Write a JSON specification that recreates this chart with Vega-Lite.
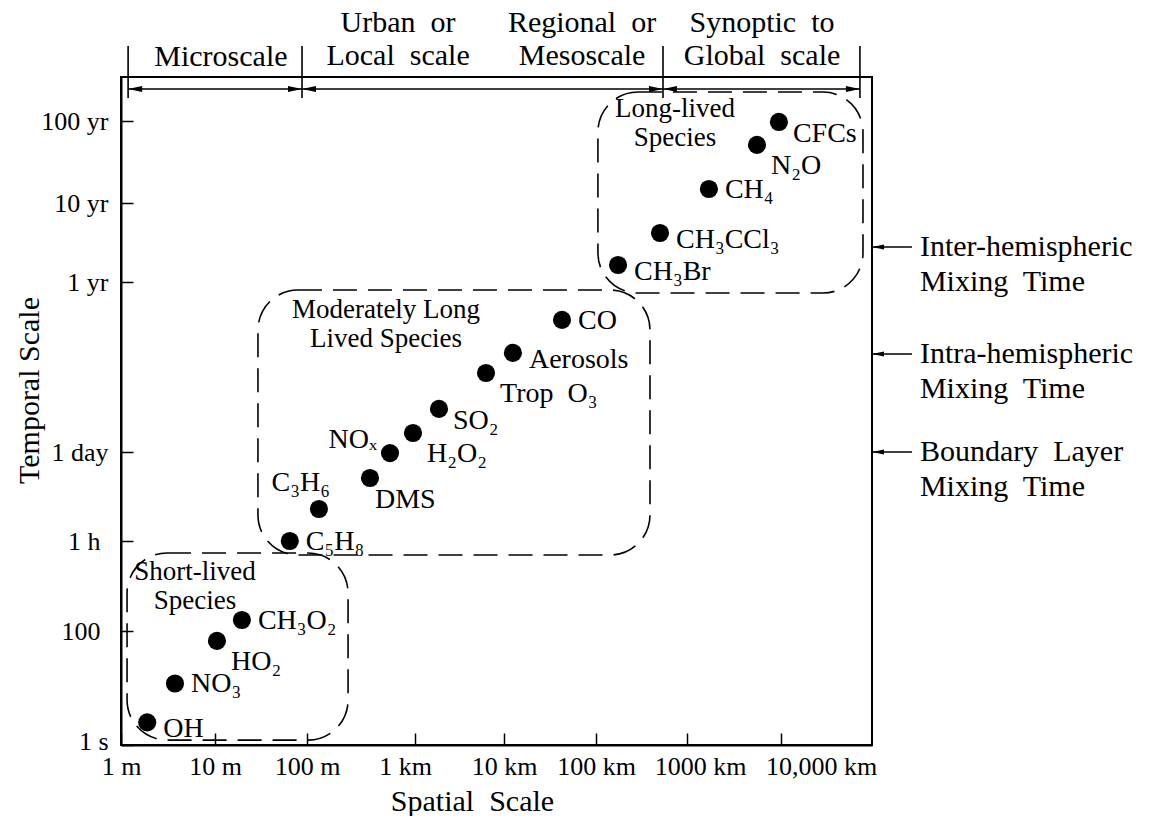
{
  "$schema": "https://vega.github.io/schema/vega-lite/v6.json",
  "width": 751,
  "height": 668,
  "autosize": {"type": "none"},
  "padding": {"left": 121, "top": 77, "right": 277, "bottom": 71},
  "background": "white",
  "config": {
    "font": "Liberation Serif",
    "view": {"stroke": "black", "strokeWidth": 2},
    "axis": {
      "domainColor": "black", "domainWidth": 2,
      "tickColor": "black", "tickWidth": 1.5,
      "labelColor": "black", "titleColor": "#000000",
      "labelFont": "Liberation Serif", "titleFont": "Liberation Serif",
      "labelFontSize": 26, "titleFontSize": 30,
      "titleFontWeight": "normal", "grid": false,
      "labelOverlap": false, "labelFlush": false
    },
    "text": {"color": "black", "font": "Liberation Serif"}
  },
  "datasets": {
    "species": [
      {"species": "OH", "space_m": 1.9, "time_s": 2.5},
      {"species": "NO₃", "space_m": 3.75, "time_s": 12},
      {"species": "HO₂", "space_m": 10.5, "time_s": 67},
      {"species": "CH₃O₂", "space_m": 19.6, "time_s": 155},
      {"species": "C₅H₈", "space_m": 65, "time_s": 3600},
      {"species": "C₃H₆", "space_m": 129, "time_s": 11300},
      {"species": "DMS", "space_m": 383, "time_s": 34100},
      {"species": "NOₓ", "space_m": 587, "time_s": 83200},
      {"species": "H₂O₂", "space_m": 958, "time_s": 167000},
      {"species": "SO₂", "space_m": 1860, "time_s": 385000},
      {"species": "Trop\u00a0 O₃", "space_m": 6280, "time_s": 1340000},
      {"species": "Aerosols", "space_m": 12500, "time_s": 2690000},
      {"species": "CO", "space_m": 42700, "time_s": 8450000},
      {"species": "CH₃Br", "space_m": 174600, "time_s": 51800000},
      {"species": "CH₃CCl₃", "space_m": 505000, "time_s": 131500000},
      {"species": "CH₄", "space_m": 1710000, "time_s": 467000000},
      {"species": "N₂O", "space_m": 5550000, "time_s": 1610000000},
      {"species": "CFCs", "space_m": 9500000, "time_s": 3070000000}
    ],
    "boxes": [
      {"group": "Short-lived", "x": 1.16, "x2": 240, "y": 1.22, "y2": 2230},
      {"group": "Moderately long lived", "x": 29.3, "x2": 392000, "y": 2060, "y2": 23900000},
      {"group": "Long-lived", "x": 105000, "x2": 79600000, "y": 21500000, "y2": 6750000000}
    ],
    "boxnotes": [
      {"text": "Short-lived\nSpecies", "x": 6.12, "y": 762},
      {"text": "Moderately Long\nLived Species", "x": 539, "y": 9040000},
      {"text": "Long-lived\nSpecies", "x": 738000, "y": 3460000000}
    ],
    "scalenotes": [
      {"text": "Microscale", "x": 11.6, "y": 13300000000},
      {"text": "Urban\u00a0 or\nLocal\u00a0 scale", "x": 697, "y": 32600000000},
      {"text": "Regional\u00a0 or\nMesoscale", "x": 70500, "y": 32600000000},
      {"text": "Synoptic\u00a0 to\nGlobal\u00a0 scale", "x": 6280000, "y": 32600000000}
    ],
    "dividers": [
      {"x": 1.19, "y": 5770000000, "y2": 22600000000},
      {"x": 88.3, "y": 5770000000, "y2": 22600000000},
      {"x": 545000, "y": 5770000000, "y2": 22600000000},
      {"x": 73700000, "y": 5770000000, "y2": 22600000000}
    ],
    "spans": [
      {"x": 1.19, "x2": 88.3, "y": 7300000000},
      {"x": 88.3, "x2": 545000, "y": 7300000000},
      {"x": 545000, "x2": 73700000, "y": 7300000000}
    ],
    "mixing": [
      {"text": "Inter-hemispheric\nMixing\u00a0 Time", "y": 87500000, "x": 100000000, "x2": 275000000, "xt": 336000000},
      {"text": "Intra-hemispheric\nMixing\u00a0 Time", "y": 2590000, "x": 100000000, "x2": 275000000, "xt": 336000000},
      {"text": "Boundary\u00a0 Layer\nMixing\u00a0 Time", "y": 86400, "x": 100000000, "x2": 275000000, "xt": 336000000}
    ]
  },
  "layer": [
    {
      "data": {"name": "species"},
      "mark": {"type": "point", "shape": "circle", "filled": true, "color": "black", "size": 330, "opacity": 1},
      "encoding": {
        "x": {
          "field": "space_m", "type": "quantitative",
          "scale": {"type": "log", "domain": [1, 10, 100, 1000, 10000, 100000, 1000000, 10000000, 100000000], "range": [0, 94, 186, 294, 383, 475, 566, 660, 751], "nice": false},
          "axis": {
            "title": "Spatial\u00a0 Scale",
            "values": [1, 10, 100, 1000, 10000, 100000, 1000000, 10000000],
            "labelExpr": "datum.value == 1 ? '1 m' : datum.value == 10 ? '10 m' : datum.value == 100 ? '100 m' : datum.value == 1000 ? '1 km' : datum.value == 10000 ? '10 km' : datum.value == 100000 ? '100 km' : datum.value == 1000000 ? '1000 km' : '10,000 km'",
            "tickSize": -12,
            "labelPadding": 20,
            "labelOffset": {"condition": [{"test": "datum.value == 1000", "value": -10}, {"test": "datum.value == 1000000", "value": 13}, {"test": "datum.value == 10000000", "value": 40}], "value": 0},
            "titleX": 351, "titleY": 65, "titleAlign": "center", "titleBaseline": "alphabetic", "titleColor": "#000000"
          }
        },
        "y": {
          "field": "time_s", "type": "quantitative",
          "scale": {"type": "log", "domain": [1, 100, 3600, 86400, 31536000, 315360000, 3153600000, 10000000000], "range": [668, 554, 464, 375, 205, 126, 44, 0], "nice": false},
          "axis": {
            "title": "Temporal Scale",
            "values": [1, 100, 3600, 86400, 31536000, 315360000, 3153600000],
            "labelExpr": "datum.value == 1 ? '1 s' : datum.value == 100 ? '100' : datum.value == 3600 ? '1 h' : datum.value == 86400 ? '1 day' : datum.value == 31536000 ? '1 yr' : datum.value == 315360000 ? '10 yr' : '100 yr'",
            "tickSize": -12,
            "labelPadding": {"condition": {"test": "datum.value == 3600 || datum.value == 100", "value": 33}, "value": 25},
            "labelOffset": {"condition": {"test": "datum.value == 1", "value": -4}, "value": 0},
            "titleX": -83, "titleY": 313, "titleAngle": -90, "titleAlign": "center", "titleBaseline": "alphabetic", "titleColor": "#000000"
          }
        }
      }
    },
    {
      "data": {"name": "boxes"},
      "mark": {"type": "rect", "filled": false, "stroke": "black", "strokeWidth": 1.6, "strokeDash": [24, 11], "cornerRadius": 40},
      "encoding": {
        "x": {"field": "x", "type": "quantitative"},
        "x2": {"field": "x2"},
        "y": {"field": "y", "type": "quantitative"},
        "y2": {"field": "y2"}
      }
    },
    {
      "data": {"name": "dividers"},
      "mark": {"type": "rule", "color": "black", "strokeWidth": 1.6},
      "encoding": {
        "x": {"field": "x", "type": "quantitative"},
        "y": {"field": "y", "type": "quantitative"},
        "y2": {"field": "y2"}
      }
    },
    {
      "data": {"name": "spans"},
      "mark": {"type": "rule", "color": "black", "strokeWidth": 1.5},
      "encoding": {
        "x": {"field": "x", "type": "quantitative"},
        "x2": {"field": "x2"},
        "y": {"field": "y", "type": "quantitative"}
      }
    },
    {
      "data": {"name": "spans"},
      "mark": {"type": "point", "shape": "M0,0L2,-0.42L2,0.42Z", "filled": true, "color": "black", "size": 196, "opacity": 1},
      "encoding": {
        "x": {"field": "x", "type": "quantitative"},
        "y": {"field": "y", "type": "quantitative"}
      }
    },
    {
      "data": {"name": "spans"},
      "mark": {"type": "point", "shape": "M0,0L-2,-0.42L-2,0.42Z", "filled": true, "color": "black", "size": 196, "opacity": 1},
      "encoding": {
        "x": {"field": "x2", "type": "quantitative"},
        "y": {"field": "y", "type": "quantitative"}
      }
    },
    {
      "data": {"name": "mixing"},
      "mark": {"type": "rule", "color": "black", "strokeWidth": 1.5},
      "encoding": {
        "x": {"field": "x", "type": "quantitative"},
        "x2": {"field": "x2"},
        "y": {"field": "y", "type": "quantitative"}
      }
    },
    {
      "data": {"name": "mixing"},
      "mark": {"type": "point", "shape": "M0,0L2,-0.42L2,0.42Z", "filled": true, "color": "black", "size": 144, "opacity": 1},
      "encoding": {
        "x": {"field": "x", "type": "quantitative"},
        "y": {"field": "y", "type": "quantitative"}
      }
    },
    {
      "data": {"name": "mixing"},
      "mark": {"type": "text", "align": "left", "baseline": "alphabetic", "fontSize": 30, "lineBreak": "\n", "lineHeight": 35, "dy": 9},
      "encoding": {
        "x": {"field": "xt", "type": "quantitative"},
        "y": {"field": "y", "type": "quantitative"},
        "text": {"field": "text", "type": "nominal"}
      }
    },
    {
      "data": {"name": "scalenotes"},
      "mark": {"type": "text", "align": "center", "baseline": "alphabetic", "fontSize": 30, "lineBreak": "\n", "lineHeight": 33},
      "encoding": {
        "x": {"field": "x", "type": "quantitative"},
        "y": {"field": "y", "type": "quantitative"},
        "text": {"field": "text", "type": "nominal"}
      }
    },
    {
      "data": {"name": "boxnotes"},
      "mark": {"type": "text", "align": "center", "baseline": "alphabetic", "fontSize": 27, "lineBreak": "\n", "lineHeight": 29},
      "encoding": {
        "x": {"field": "x", "type": "quantitative"},
        "y": {"field": "y", "type": "quantitative"},
        "text": {"field": "text", "type": "nominal"}
      }
    },
    {
      "data": {"name": "species"},
      "transform": [{"filter": {"field": "species", "oneOf": ["NO₃", "CH₃O₂", "C₅H₈", "CO", "CH₄"]}}],
      "mark": {"type": "text", "align": "left", "baseline": "middle", "fontSize": 28, "dx": 16, "dy": 1},
      "encoding": {
        "x": {"field": "space_m", "type": "quantitative"},
        "y": {"field": "time_s", "type": "quantitative"},
        "text": {"field": "species", "type": "nominal"}
      }
    },
    {
      "data": {"name": "species"},
      "transform": [{"filter": {"field": "species", "oneOf": ["OH", "CH₃Br", "CH₃CCl₃", "Aerosols"]}}],
      "mark": {"type": "text", "align": "left", "baseline": "middle", "fontSize": 28, "dx": 16, "dy": 7},
      "encoding": {
        "x": {"field": "space_m", "type": "quantitative"},
        "y": {"field": "time_s", "type": "quantitative"},
        "text": {"field": "species", "type": "nominal"}
      }
    },
    {
      "data": {"name": "species"},
      "transform": [{"filter": {"field": "species", "oneOf": ["SO₂", "CFCs"]}}],
      "mark": {"type": "text", "align": "left", "baseline": "middle", "fontSize": 28, "dx": 14, "dy": 12},
      "encoding": {
        "x": {"field": "space_m", "type": "quantitative"},
        "y": {"field": "time_s", "type": "quantitative"},
        "text": {"field": "species", "type": "nominal"}
      }
    },
    {
      "data": {"name": "species"},
      "transform": [{"filter": {"field": "species", "oneOf": ["HO₂", "H₂O₂", "Trop\u00a0 O₃", "N₂O"]}}],
      "mark": {"type": "text", "align": "left", "baseline": "middle", "fontSize": 28, "dx": 14, "dy": 21},
      "encoding": {
        "x": {"field": "space_m", "type": "quantitative"},
        "y": {"field": "time_s", "type": "quantitative"},
        "text": {"field": "species", "type": "nominal"}
      }
    },
    {
      "data": {"name": "species"},
      "transform": [{"filter": {"field": "species", "equal": "DMS"}}],
      "mark": {"type": "text", "align": "left", "baseline": "middle", "fontSize": 28, "dx": 5, "dy": 22},
      "encoding": {
        "x": {"field": "space_m", "type": "quantitative"},
        "y": {"field": "time_s", "type": "quantitative"},
        "text": {"field": "species", "type": "nominal"}
      }
    },
    {
      "data": {"name": "species"},
      "transform": [{"filter": {"field": "species", "equal": "C₃H₆"}}],
      "mark": {"type": "text", "align": "right", "baseline": "middle", "fontSize": 28, "dx": 11, "dy": -26},
      "encoding": {
        "x": {"field": "space_m", "type": "quantitative"},
        "y": {"field": "time_s", "type": "quantitative"},
        "text": {"field": "species", "type": "nominal"}
      }
    },
    {
      "data": {"name": "species"},
      "transform": [{"filter": {"field": "species", "equal": "NOₓ"}}],
      "mark": {"type": "text", "align": "right", "baseline": "middle", "fontSize": 28, "dx": -13, "dy": -13},
      "encoding": {
        "x": {"field": "space_m", "type": "quantitative"},
        "y": {"field": "time_s", "type": "quantitative"},
        "text": {"field": "species", "type": "nominal"}
      }
    }
  ]
}
